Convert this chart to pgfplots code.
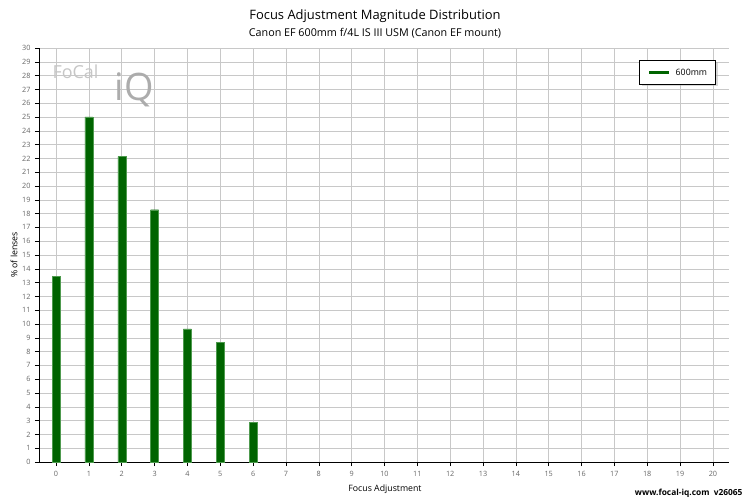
\documentclass[border=0pt]{standalone}
\usepackage{pgfplots}
\pgfplotsset{compat=1.18}
\usepackage{fontspec}
\setmainfont{Open Sans}
\usetikzlibrary{shadows}
\definecolor{bargreen}{HTML}{006400}
\definecolor{baredge}{HTML}{4E9A4E}
\definecolor{gridgray}{HTML}{C8C8C8}
\definecolor{ticktext}{HTML}{666666}
\begin{document}
\begin{tikzpicture}
\path[use as bounding box] (-39bp,-38bp) rectangle (711bp,462bp);
\begin{axis}[
  at={(0,0)}, anchor=south west,
  scale only axis, width=690bp, height=414bp,
  xmin=-0.52, xmax=20.49, ymin=0, ymax=30,
  axis x line*=bottom, axis y line*=left,
  axis line style={black, line width=1pt, -},
  xtick={0,...,20}, ytick={0,...,30},
  grid=major, major grid style={gridgray, line width=0.6pt},
  tick style={black, line width=0.6pt},
  major tick length=4bp,
  tick align=outside,
  ticklabel style={font=\fontsize{7.3}{8}\selectfont, text=ticktext},
  /pgf/number format/assume math mode=true,
  xticklabel style={yshift=-2bp},
  yticklabel style={xshift=-1bp},
  ybar, bar width=8bp,
]
\addplot[fill=bargreen, draw=baredge, line width=0.4pt] coordinates {
 (0,13.46) (1,25.0) (2,22.13) (3,18.28) (4,9.64) (5,8.67) (6,2.88)
};
\end{axis}
% watermark logo approximation
\node[anchor=west, text=gray!45, font=\fontsize{18}{18}\selectfont] at (10bp,390bp) {FoCal};
\node[anchor=west, text=gray!65, font=\fontsize{38}{38}\selectfont] at (72bp,372bp) {iQ};
% titles
\node[font=\fontsize{13}{15}\selectfont] at (336bp,446bp) {Focus Adjustment Magnitude Distribution};
\node[font=\fontsize{10.8}{12}\selectfont] at (336bp,429bp) {Canon EF 600mm f/4L IS III USM (Canon EF mount)};
% axis labels
\node[font=\fontsize{8.8}{10}\selectfont] at (346bp,-27bp) {Focus Adjustment};
\node[font=\fontsize{8.8}{10}\selectfont, rotate=90] at (-25bp,207bp) {\% of lenses};
\node[anchor=east, font=\bfseries\fontsize{8.4}{9}\selectfont] at (707bp,-31bp) {www.focal-iq.com\ \ v26065};
% legend
\node[anchor=north east, draw=black, line width=0.8pt, fill=white, minimum width=76bp, minimum height=24bp,
      drop shadow={shadow xshift=2bp, shadow yshift=-2bp, fill=gray!60}] (leg) at (677bp,402bp) {};
\draw[bargreen, line width=3pt] ([xshift=10bp]leg.west) -- ++(20bp,0);
\node[anchor=west, font=\fontsize{8.8}{10}\selectfont] at ([xshift=33bp]leg.west) {600mm};
\end{tikzpicture}
\end{document}
